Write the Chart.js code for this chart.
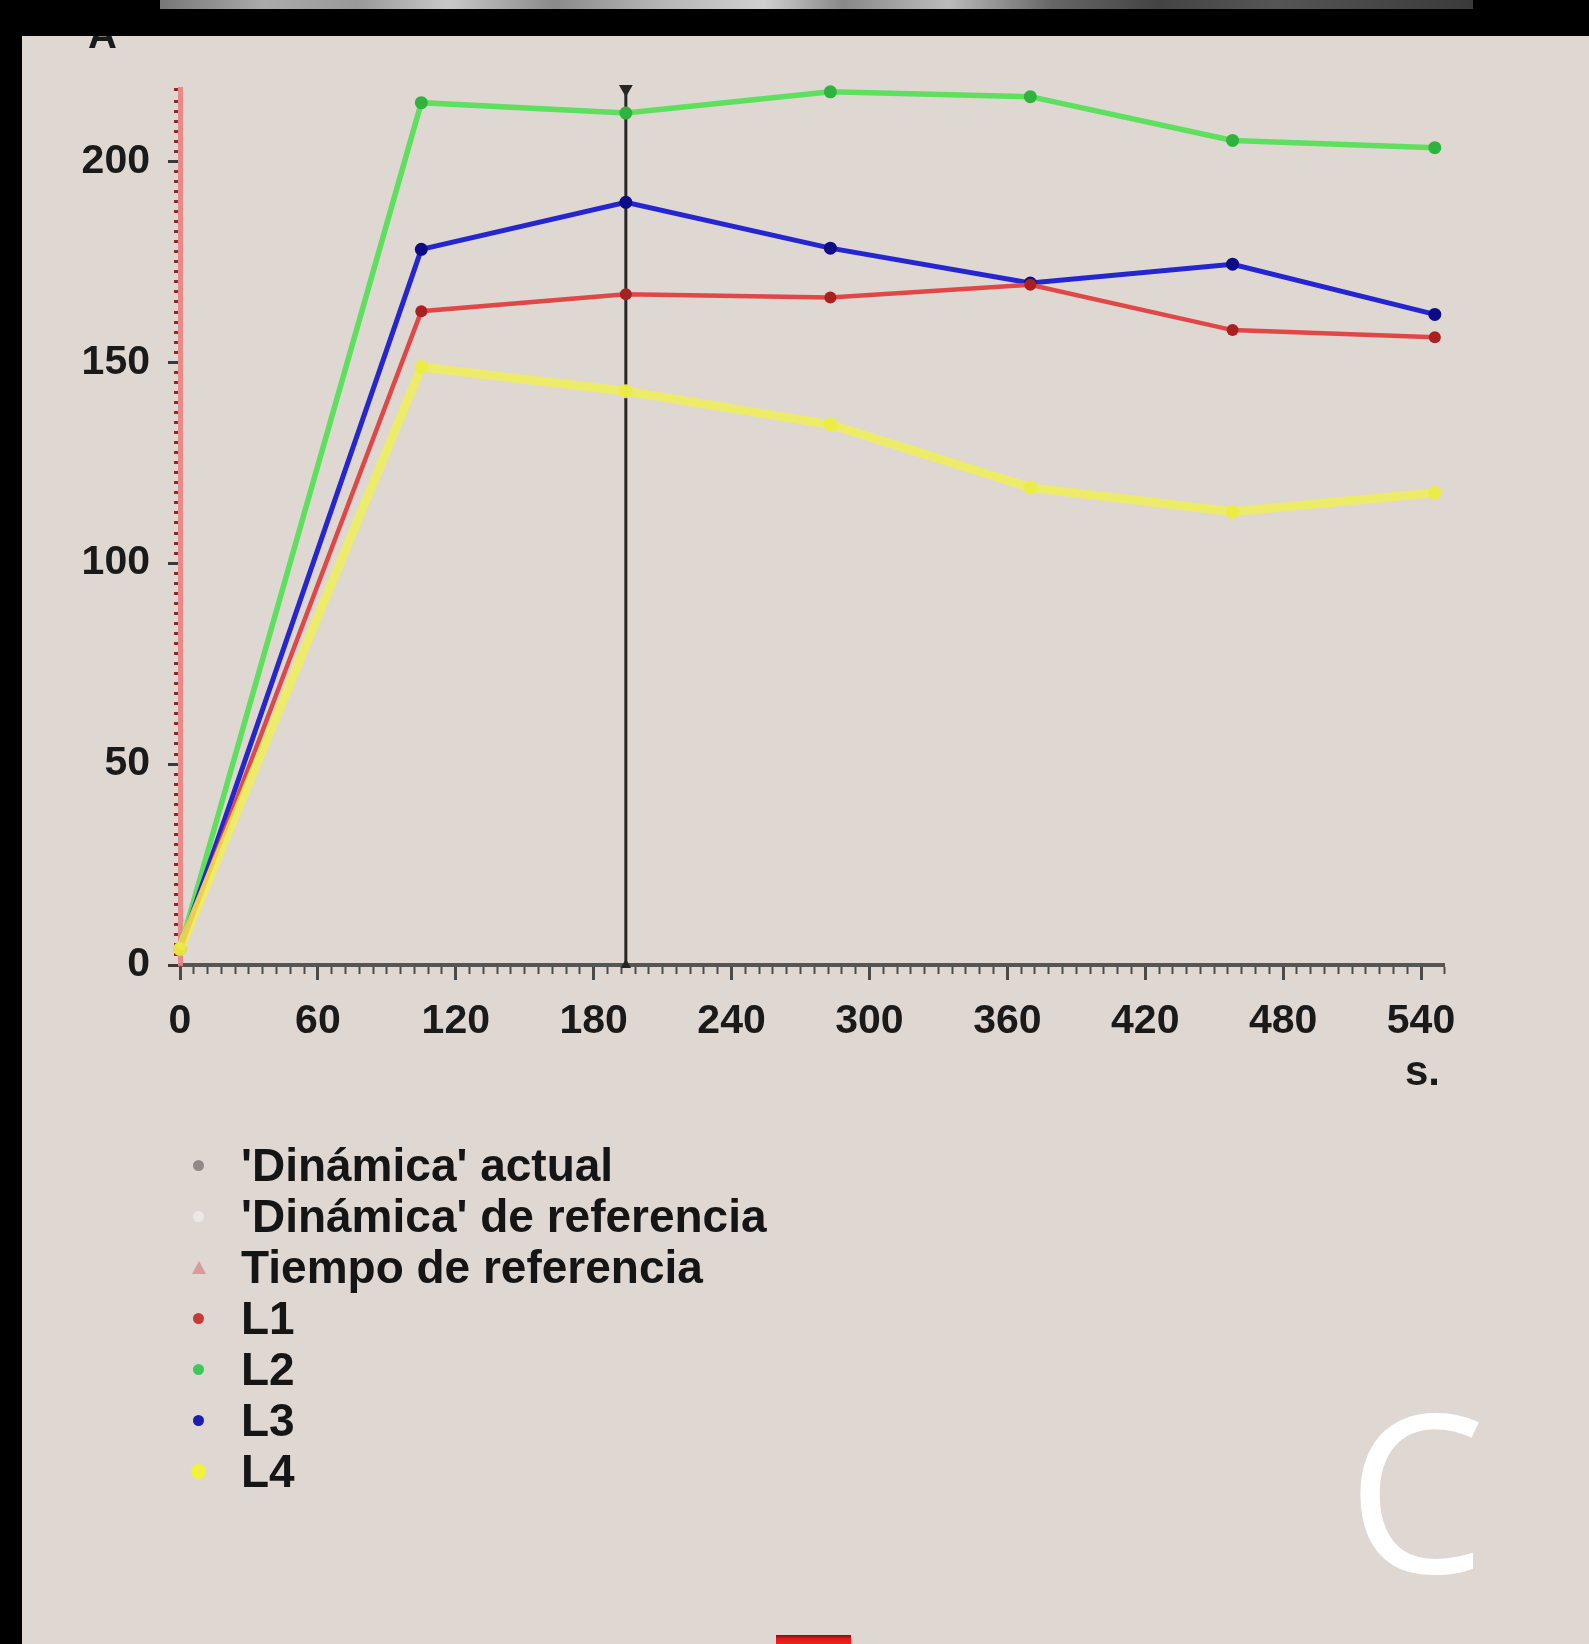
<!DOCTYPE html>
<html>
<head>
<meta charset="utf-8">
<script src="https://cdn.jsdelivr.net/npm/chart.js@4.4.1/dist/chart.umd.min.js"></script>
<style>
  html, body { margin: 0; padding: 0; }
  body { width: 1589px; height: 1644px; overflow: hidden; background: #dfd7d2; position: relative; font-family: "Liberation Sans", Arial, sans-serif; }
  #grafica { position: absolute; left: 0; top: 0; }
  .marco-top { position: absolute; left: 0; top: 0; width: 1589px; height: 36px; background: #000; z-index: 5; }
  .tira { position: absolute; left: 160px; top: 0; width: 1313px; height: 9px; z-index: 6;
    background: linear-gradient(90deg, #777 0%, #aaa 8%, #999 15%, #c8c8c8 22%, #8a8a8a 30%, #b5b5b5 38%, #d0d0d0 46%, #888 52%, #bbb 60%, #666 68%, #444 76%, #555 85%, #3a3a3a 100%); }
  .marco-izq { position: absolute; left: 0; top: 0; width: 22px; height: 1644px; background: #000; z-index: 5; }
  .etiqueta { position: absolute; font-family: "Liberation Sans", Arial, sans-serif; font-weight: bold; color: #1a1a1a; line-height: 1; }
  #leyenda { position: absolute; left: 180px; top: 1140px; margin: 0; padding: 0; list-style: none; }
  #leyenda li { height: 51px; line-height: 51px; font-size: 46px; font-weight: bold; color: #151515; position: relative; padding-left: 61px; white-space: nowrap; }
  #leyenda .mk { position: absolute; left: 13px; top: 20px; width: 11px; height: 11px; border-radius: 50%; }
  #leyenda .tri { position: absolute; left: 12px; top: 19px; width: 0; height: 0; border-left: 7px solid transparent; border-right: 7px solid transparent; border-bottom: 13px solid #d89a9a; }
  .letra { position: absolute; left: 1347px; top: 1378px; font-family: "Open Sans", "Noto Sans", sans-serif; font-size: 220px; color: #fff; line-height: 1; }
  .rojo { position: absolute; left: 776px; top: 1635px; width: 75px; height: 9px; background: linear-gradient(180deg, #7a1010 0%, #e01818 40%, #f02020 100%); }
</style>
</head>
<body>
<canvas id="grafica" width="1589" height="1644"></canvas>
<div class="marco-top"></div>
<div class="tira"></div>
<div class="marco-izq"></div>
<div class="etiqueta" style="left:88px; top:14px; font-size:40px;">A</div>
<div class="etiqueta" style="left:1405px; top:1050px; font-size:42px;">s.</div>
<ul id="leyenda"></ul>
<div class="letra">C</div>
<div class="rojo"></div>
<script>
// datos (segundos / amperios)
const tiempos = [0, 105, 194, 283, 370, 458, 546];
const serieL1 = [4, 162.7, 166.9, 166.1, 169.3, 158, 156.2];
const serieL2 = [4, 214.6, 212, 217.3, 216.1, 205.2, 203.4];
const serieL3 = [4, 178.1, 189.8, 178.4, 169.7, 174.4, 161.9];
const serieL4 = [4, 148.8, 142.8, 134.5, 118.8, 112.8, 117.5];
const cursorTiempo = 194;
const ejeYMax = 218;
const ejeXMax = 550;

const nombresLeyenda = ["'Dinámica' actual", "'Dinámica' de referencia", "Tiempo de referencia", "L1", "L2", "L3", "L4"];
const coloresLeyenda = ["#8f8a88", "#ece8e6", "#d89a9a", "#c83a3a", "#3ec85a", "#1c1cb0", "#f2f238"];

function puntos(valores) {
  return tiempos.map((t, i) => ({ x: t, y: valores[i] }));
}

// leyenda en html (lista vertical)
const leyenda = document.getElementById("leyenda");
nombresLeyenda.forEach((nombre, i) => {
  const li = document.createElement("li");
  const mk = document.createElement("span");
  if (i === 2) {
    mk.className = "tri";
  } else {
    mk.className = "mk";
    mk.style.background = coloresLeyenda[i];
    if (i === 6) { mk.style.width = "15px"; mk.style.height = "15px"; mk.style.left = "11px"; mk.style.top = "18px"; }
  }
  li.appendChild(mk);
  li.appendChild(document.createTextNode(nombre));
  leyenda.appendChild(li);
});

const fuenteTicks = { family: "'Liberation Sans', Arial, sans-serif", size: 41, weight: "bold", lineHeight: 1 };

const ctx = document.getElementById("grafica").getContext("2d");
const grafica = new Chart(ctx, {
  type: "line",
  data: {
    datasets: [
      {
        label: "L4",
        data: puntos(serieL4),
        borderColor: "rgba(240,240,80,0.8)",
        backgroundColor: "rgba(236,236,70,0.95)",
        borderWidth: 9,
        pointRadius: 7,
        pointBorderWidth: 0,
        tension: 0,
        clip: false,
      },
      {
        label: "L1",
        data: puntos(serieL1),
        borderColor: "#e04848",
        backgroundColor: "#a82020",
        borderWidth: 4.5,
        pointRadius: 6,
        pointBorderWidth: 0,
        tension: 0,
        clip: false,
      },
      {
        label: "L3",
        data: puntos(serieL3),
        borderColor: "#2626d0",
        backgroundColor: "#0c0c88",
        borderWidth: 5,
        pointRadius: 6.5,
        pointBorderWidth: 0,
        tension: 0,
        clip: false,
      },
      {
        label: "L2",
        data: puntos(serieL2),
        borderColor: "#5ee05e",
        backgroundColor: "#2fb33f",
        borderWidth: 5.5,
        pointRadius: 6.5,
        pointBorderWidth: 0,
        tension: 0,
        clip: false,
      },
      {
        label: "cursor",
        data: [{ x: cursorTiempo, y: 0 }, { x: cursorTiempo, y: ejeYMax }],
        borderColor: "#262626",
        backgroundColor: "#262626",
        borderWidth: 3,
        pointStyle: "triangle",
        pointRadius: [3, 5],
        pointRotation: [0, 180],
        clip: false,
      },
    ],
  },
  options: {
    responsive: false,
    animation: false,
    layout: {
      padding: { left: 80, right: 145, top: 89, bottom: 559 },
    },
    plugins: {
      legend: { display: false },
      tooltip: { enabled: false },
    },
    scales: {
      x: {
        type: "linear",
        min: 0,
        max: ejeXMax,
        afterFit: (s) => { s.height = 120; },
        border: { color: "#555", width: 4 },
        grid: {
          drawOnChartArea: false,
          tickLength: 15,
          tickColor: "#4a4a4a",
          tickWidth: (c) => (c.tick && c.tick.value % 60 === 0 ? 3 : 2),
          tickBorderDash: (c) => (c.tick && c.tick.value % 60 === 0 ? [] : [7, 40]),
        },
        ticks: {
          stepSize: 6,
          autoSkip: false,
          maxRotation: 0,
          padding: 21,
          color: "#1a1a1a",
          font: fuenteTicks,
          callback: (v) => (v % 60 === 0 ? String(v) : ""),
        },
      },
      y: {
        type: "linear",
        min: 0,
        max: ejeYMax,
        afterFit: (s) => { s.width = 100; },
        border: { color: "rgba(236,128,128,0.9)", width: 5 },
        grid: {
          drawOnChartArea: false,
          tickLength: 12,
          tickColor: (c) => (c.tick && c.tick.value % 50 === 0 ? "#3a3a3a" : "#8a2a2a"),
          tickWidth: (c) => (c.tick && c.tick.value % 50 === 0 ? 3 : 3),
          // las marcas menores pegadas a la linea roja del eje
          tickBorderDash: (c) => (c.tick && c.tick.value % 50 === 0 ? [] : [0, 6, 4, 40]),
        },
        ticks: {
          stepSize: 2.5,
          autoSkip: false,
          padding: 18,
          color: "#1a1a1a",
          font: fuenteTicks,
          callback: (v) => (v % 50 === 0 ? String(v) : ""),
        },
      },
    },
  },
});
</script>
</body>
</html>
